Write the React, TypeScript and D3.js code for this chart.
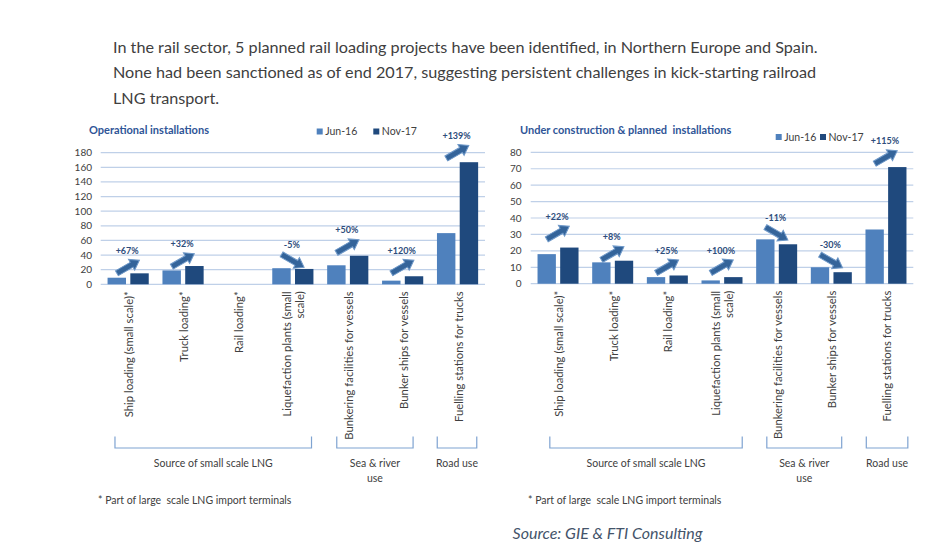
import React from "react";
import * as d3 from "d3";

// ---------- DATA ----------
const categoryLines: string[][] = [
  ["Ship loading (small scale)*"],
  ["Truck loading*"],
  ["Rail loading*"],
  ["Liquefaction plants (small", "scale)"],
  ["Bunkering facilities for vessels"],
  ["Bunker ships for vessels"],
  ["Fuelling stations for trucks"],
];
const seriesNames = ["Jun-16", "Nov-17"];

const opJun16 = [9, 19, 0, 22, 26, 5, 70];
const opNov17 = [15, 25, 0, 21, 39, 11, 167];
const opChange = ["+67%", "+32%", "", "-5%", "+50%", "+120%", "+139%"];
const opArrowLevel = [24, 33, 0, 32, 52, 24, 181];
const opTicks = [0, 20, 40, 60, 80, 100, 120, 140, 160, 180];

const planJun16 = [18, 13, 4, 2, 27, 10, 33];
const planNov17 = [22, 14, 5, 4, 24, 7, 71];
const planChange = ["+22%", "+8%", "+25%", "+100%", "-11%", "-30%", "+115%"];
const planArrowLevel = [31, 18.5, 10.5, 10.5, 30.5, 13.7, 77];
const planTicks = [0, 10, 20, 30, 40, 50, 60, 70, 80];

const groupLines: string[][] = [["Source of small scale LNG"], ["Sea & river", "use"], ["Road use"]];
const groupFirst = [0, 4, 6];
const groupLast = [3, 5, 6];

const introLines = [
  "In the rail sector, 5 planned rail loading projects have been identified, in Northern Europe and Spain.",
  "None had been sanctioned as of end 2017, suggesting persistent challenges in kick-starting railroad",
  "LNG transport.",
];
const footnote = "* Part of large  scale LNG import terminals";
const sourceText = "Source: GIE & FTI Consulting";

// ---------- STYLE ----------
const FONT = "Lato, 'Open Sans', sans-serif";
const C_JUN = "#4F81BD";
const C_NOV = "#1F497D";
const C_GRID = "#BFD0E8";
const C_TITLE = "#2F5597";
const C_PCT = "#2E4D7B";
const C_TEXT = "#404040";
const C_BRACKET = "#7FA3D1";

const catIdx = categoryLines.map((_, i) => String(i));

type PanelProps = {
  title: string;
  x0: number;
  x1: number;
  yBottom: number;
  yTop: number;
  maxV: number;
  ticks: number[];
  jun: number[];
  nov: number[];
  change: string[];
  arrowLevel: number[];
  tickRight: number;
  titleX: number;
  legendX: number[];
  legendY: number;
  bracketInsets: number[][];
  footX: number;
};

function Arrow({ cx, cy, up }: { cx: number; cy: number; up: boolean }) {
  const p = "M -13,-2.8 L 4,-2.8 L 4,-6.2 L 13,0 L 4,6.2 L 4,2.8 L -13,2.8 Z";
  const ang = up ? -30 : 30;
  return (
    <path
      d={p}
      transform={`translate(${cx},${cy}) rotate(${ang})`}
      fill="#34649A"
      stroke="#6E98C8"
      strokeWidth={1}
    />
  );
}

function Panel(props: PanelProps) {
  const { x0, x1, yBottom, yTop, maxV, ticks, jun, nov, change, arrowLevel } = props;
  const x = d3.scaleBand<string>().domain(catIdx).range([x0, x1]).padding(0);
  const bw = x.bandwidth();
  const sub = d3
    .scaleBand<string>()
    .domain(seriesNames)
    .range([bw * 0.125, bw * 0.875])
    .paddingInner(0.19);
  const y = d3.scaleLinear().domain([0, maxV]).range([yBottom, yTop]);
  const values = [jun, nov];
  const colors = [C_JUN, C_NOV];

  return (
    <g>
      <text
        x={props.titleX}
        y={134}
        fontFamily={FONT}
        fontSize={11}
        fontWeight={700}
        fill={C_TITLE}
        style={{ whiteSpace: "pre" }}
      >
        {props.title}
      </text>
      {seriesNames.map((s, i) => (
        <g key={s}>
          <rect x={props.legendX[i]} y={props.legendY - 6.5} width={6} height={6} fill={colors[i]} />
          <text x={props.legendX[i] + 8.5} y={props.legendY} fontFamily={FONT} fontSize={10.5} fill={C_TEXT}>
            {s}
          </text>
        </g>
      ))}
      {ticks.map((t) => (
        <g key={t}>
          <line x1={x0} x2={x1} y1={y(t)} y2={y(t)} stroke={C_GRID} strokeWidth={1.2} />
          <text
            x={props.tickRight}
            y={y(t)}
            dy="0.35em"
            textAnchor="end"
            fontFamily={FONT}
            fontSize={10}
            fill={C_TEXT}
          >
            {t}
          </text>
        </g>
      ))}
      {catIdx.map((c, i) =>
        seriesNames.map((s, k) => {
          const v = values[k][i];
          return (
            <rect
              key={c + s}
              x={(x(c) as number) + (sub(s) as number)}
              y={y(v)}
              width={sub.bandwidth()}
              height={y(0) - y(v)}
              fill={colors[k]}
            />
          );
        })
      )}
      {catIdx.map((c, i) => {
        if (!change[i]) return null;
        const cx = (x(c) as number) + bw / 2;
        const cy = y(arrowLevel[i]);
        const up = !change[i].startsWith("-");
        return (
          <g key={"a" + c}>
            <Arrow cx={cx} cy={cy} up={up} />
            <text
              x={cx - 1}
              y={cy - 16}
              dy="0.35em"
              textAnchor="middle"
              fontFamily={FONT}
              fontSize={9}
              fontWeight={700}
              fill={C_PCT}
            >
              {change[i]}
            </text>
          </g>
        );
      })}
      {catIdx.map((c, i) => {
        const cx = (x(c) as number) + bw / 2 + 1;
        const lines = categoryLines[i];
        return lines.map((ln, j) => {
          const lx = cx + (j - (lines.length - 1) / 2) * 13;
          return (
            <text
              key={c + "l" + j}
              transform={`translate(${lx},${yBottom + 7}) rotate(-90)`}
              dy="0.35em"
              textAnchor="end"
              fontFamily={FONT}
              fontSize={11.3}
              fill={C_TEXT}
            >
              {ln}
            </text>
          );
        });
      })}
      {groupLines.map((lines, g) => {
        const a = (x(String(groupFirst[g])) as number) + bw * props.bracketInsets[g][0];
        const b = (x(String(groupLast[g])) as number) + bw * props.bracketInsets[g][1];
        const mid = (a + b) / 2;
        return (
          <g key={"g" + g}>
            <path
              d={`M${a},436.5 L${a},448 L${b},448 L${b},436.5`}
              fill="none"
              stroke={C_BRACKET}
              strokeWidth={1.2}
            />
            {lines.map((ln, j) => (
              <text
                key={j}
                x={mid}
                y={463.5 + j * 15}
                dy="0.35em"
                textAnchor="middle"
                fontFamily={FONT}
                fontSize={10.5}
                fill={C_TEXT}
              >
                {ln}
              </text>
            ))}
          </g>
        );
      })}
      <text
        x={props.footX}
        y={500}
        dy="0.35em"
        fontFamily={FONT}
        fontSize={10.5}
        fill={C_TEXT}
        style={{ whiteSpace: "pre" }}
      >
        {footnote}
      </text>
    </g>
  );
}

export default function App() {
  return (
    <div style={{ position: "absolute", left: 0, top: 0, background: "#fff" }}>
      <svg width={949} height={558} style={{ display: "block" }}>
        <rect width={949} height={558} fill="#fff" />
        {introLines.map((ln, i) => (
          <text key={i} x={113} y={47 + i * 25.5} dy="0.35em" fontFamily={FONT} fontSize={16.2} fill={C_TEXT}>
            {ln}
          </text>
        ))}
        <Panel
          title="Operational installations"
          x0={100.7}
          x1={485}
          yBottom={284.3}
          yTop={152.7}
          maxV={180}
          ticks={opTicks}
          jun={opJun16}
          nov={opNov17}
          change={opChange}
          arrowLevel={opArrowLevel}
          tickRight={92}
          titleX={89}
          legendX={[316.7, 373.3]}
          legendY={135}
          bracketInsets={[[0.26, 0.84], [0.3, 0.69], [0.13, 0.85]]}
          footX={98}
        />
        <Panel
          title="Under construction & planned  installations"
          x0={530.7}
          x1={913.3}
          yBottom={283.7}
          yTop={152.3}
          maxV={80}
          ticks={planTicks}
          jun={planJun16}
          nov={planNov17}
          change={planChange}
          arrowLevel={planArrowLevel}
          tickRight={521.5}
          titleX={520}
          legendX={[775.7, 820]}
          legendY={140.5}
          bracketInsets={[[0.35, 0.87], [0.32, 0.69], [0.14, 0.9]]}
          footX={528}
        />
        <text
          x={607.5}
          y={533.5}
          dy="0.35em"
          textAnchor="middle"
          fontFamily={FONT}
          fontSize={16}
          fontStyle="italic"
          fill="#44546A"
        >
          {sourceText}
        </text>
      </svg>
    </div>
  );
}
